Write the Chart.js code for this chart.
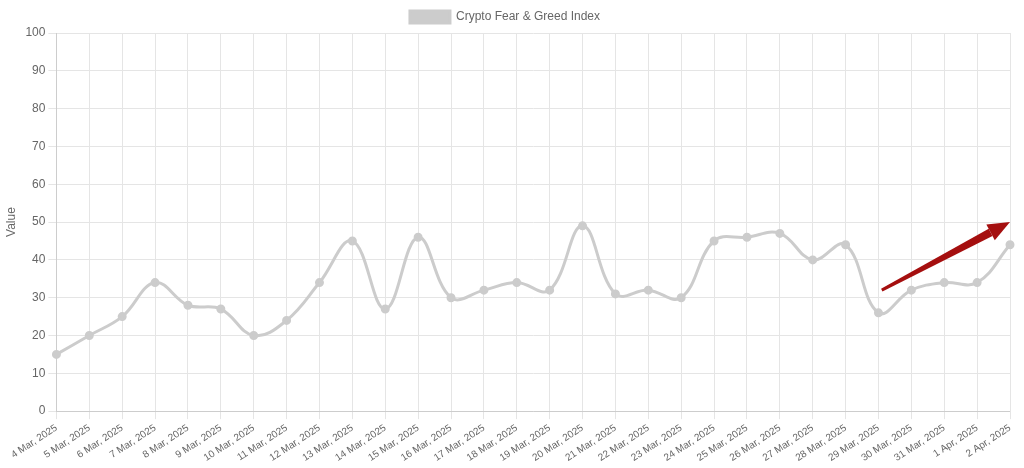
<!DOCTYPE html>
<html>
<head>
<meta charset="utf-8">
<script src="https://cdn.jsdelivr.net/npm/chart.js@4"></script>
<style>
  html, body { margin: 0; padding: 0; background: #fff; }
  #wrap { width: 1024px; height: 468px; }
</style>
</head>
<body>
<div id="wrap"><canvas id="myChart"></canvas></div>
<script>
let labels = ['4 Mar, 2025', '5 Mar, 2025', '6 Mar, 2025', '7 Mar, 2025', '8 Mar, 2025', '9 Mar, 2025',
  '10 Mar, 2025', '11 Mar, 2025', '12 Mar, 2025', '13 Mar, 2025', '14 Mar, 2025', '15 Mar, 2025',
  '16 Mar, 2025', '17 Mar, 2025', '18 Mar, 2025', '19 Mar, 2025', '20 Mar, 2025', '21 Mar, 2025',
  '22 Mar, 2025', '23 Mar, 2025', '24 Mar, 2025', '25 Mar, 2025', '26 Mar, 2025', '27 Mar, 2025',
  '28 Mar, 2025', '29 Mar, 2025', '30 Mar, 2025', '31 Mar, 2025', '1 Apr, 2025', '2 Apr, 2025'];
let values = [15, 20, 25, 34, 28, 27, 20, 24, 34, 45, 27, 46, 30, 32, 34, 32, 49, 31, 32, 30, 45, 46, 47, 40, 44, 26, 32, 34, 34, 44];

// red trend arrow: [label index, value] start and end
let arrowFrom = [25.1, 32];
let arrowTo = [29, 50];

let arrowPlugin = {
  id: 'arrow',
  afterDatasetsDraw(chart) {
    let c = chart.ctx;
    let x = chart.scales.x, y = chart.scales.y;
    let x0 = x.getPixelForValue(arrowFrom[0]), y0 = y.getPixelForValue(arrowFrom[1]);
    let x1 = x.getPixelForValue(arrowTo[0]), y1 = y.getPixelForValue(arrowTo[1]);
    let ang = Math.atan2(y1 - y0, x1 - x0);
    let head = 22;
    let bx = x1 - head * Math.cos(ang), by = y1 - head * Math.sin(ang);
    c.save();
    c.fillStyle = '#a50f0f';
    // tapered shaft
    let nx = -Math.sin(ang), ny = Math.cos(ang);
    c.beginPath();
    c.moveTo(x0 + nx * 1.5, y0 + ny * 1.5);
    c.lineTo(bx + nx * 4, by + ny * 4);
    c.lineTo(bx - nx * 4, by - ny * 4);
    c.lineTo(x0 - nx * 1.5, y0 - ny * 1.5);
    c.closePath();
    c.fill();
    // head
    c.beginPath();
    c.moveTo(x1, y1);
    c.lineTo(bx + nx * 9, by + ny * 9);
    c.lineTo(bx - nx * 9, by - ny * 9);
    c.closePath();
    c.fill();
    c.restore();
  }
};

Chart.defaults.font.family = 'Arial, "Liberation Sans", sans-serif';
Chart.defaults.font.size = 12;
Chart.defaults.color = '#666';

let ctx = document.getElementById('myChart').getContext('2d');
let myChart = new Chart(ctx, {
  type: 'line',
  data: {
    labels: labels,
    datasets: [{
      label: 'Crypto Fear & Greed Index',
      data: values,
      borderColor: '#cccccc',
      backgroundColor: '#cccccc',
      borderWidth: 3,
      pointRadius: 3,
      pointBackgroundColor: '#cccccc',
      pointBorderColor: '#cccccc',
      tension: 0.4,
      fill: false
    }]
  },
  options: {
    responsive: true,
    maintainAspectRatio: false,
    animation: false,
    layout: { padding: { top: 1, right: 14, bottom: 1 } },
    plugins: {
      legend: {
        position: 'top',
        labels: { boxWidth: 40, boxHeight: 12, color: '#666' }
      },
      tooltip: { enabled: false }
    },
    scales: {
      x: {
        grid: { color: '#e5e5e5' },
        ticks: { maxRotation: 33, minRotation: 33, autoSkip: false, color: '#666', font: { size: 10 } }
      },
      y: {
        min: 0,
        max: 100,
        ticks: { stepSize: 10, color: '#666' },
        grid: { color: '#e5e5e5' },
        title: { display: true, text: 'Value', color: '#666' }
      }
    }
  },
  plugins: [arrowPlugin]
});
</script>
</body>
</html>
